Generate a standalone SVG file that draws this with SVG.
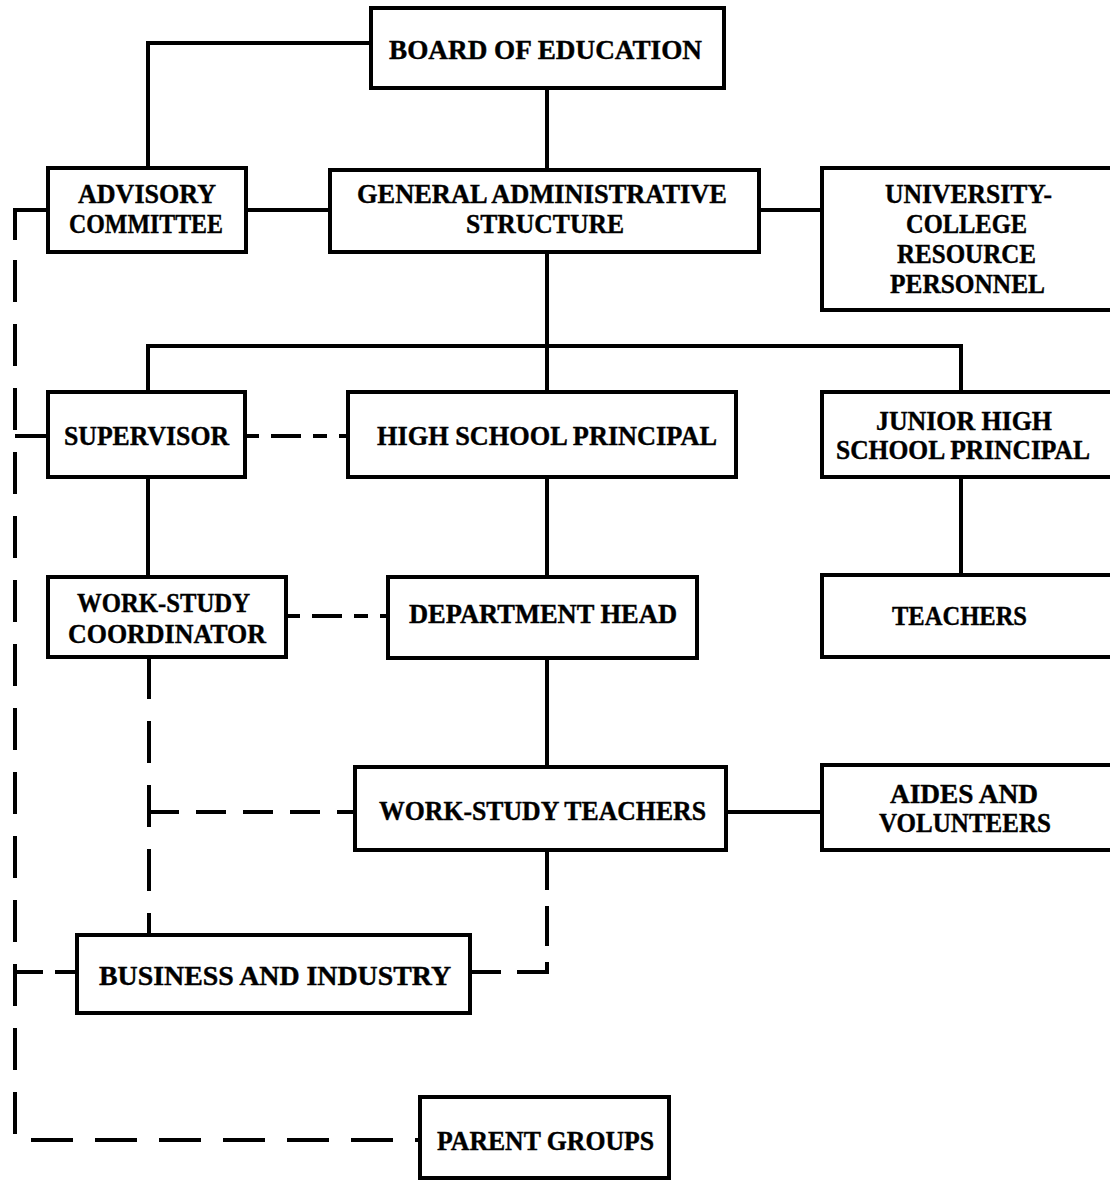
<svg xmlns="http://www.w3.org/2000/svg" width="1110" height="1181" viewBox="0 0 1110 1181">
  <style>
    .box { fill: #ffffff; stroke: #000000; stroke-width: 4; }
    .solid { fill: none; stroke: #000000; stroke-width: 4; }
    .dash { fill: none; stroke: #000000; stroke-width: 4; stroke-dasharray: 42 22; }
    .lbl { font-family: "Liberation Serif", "Times New Roman", serif; font-weight: bold; font-size: 27px; fill: #000000; stroke: #000000; stroke-width: 0.4; text-anchor: middle; }
  </style>
  <rect width="1110" height="1181" fill="#ffffff"/>

  <!-- connectors -->
  <g id="connectors">
    <!-- solid reporting lines -->
    <path class="solid" d="M371,43 H148 V168"/>
    <path class="solid" d="M547,88 V170"/>
    <path class="solid" d="M246,210 H330"/>
    <path class="solid" d="M759,210 H822"/>
    <path class="solid" d="M547,252 V392"/>
    <path class="solid" d="M148,392 V346 H961 V392"/>
    <path class="solid" d="M148,477 V577"/>
    <path class="solid" d="M547,477 V577"/>
    <path class="solid" d="M961,477 V575"/>
    <path class="solid" d="M547,658 V767"/>
    <path class="solid" d="M726,812 H822"/>
    <path class="solid" d="M48,210 H15 V240"/>
    <!-- dashed liaison lines -->
    <path class="dash" d="M15,260 V1140 H420"/>
    <path class="solid" d="M15,436 H48"/>
    <path class="dash" d="M15,972 H77" style="stroke-dasharray: 28 12"/>
    <path class="dash" d="M245,436 H348" style="stroke-dasharray: 14 12 30 12"/>
    <path class="dash" d="M286,616 H388" style="stroke-dasharray: 14 12 30 12"/>
    <path class="dash" d="M149,657 V935"/>
    <path class="dash" d="M149,812 H355" style="stroke-dasharray: 30 17"/>
    <path class="dash" d="M547,850 V972 H470" style="stroke-dasharray: 40 16"/>
  </g>

  <g id="board-of-education">
    <rect class="box" x="371" y="8" width="353" height="80"/>
    <text class="lbl" x="545.5" y="59" textLength="313" lengthAdjust="spacingAndGlyphs">BOARD OF EDUCATION</text>
  </g>

  <g id="advisory-committee">
    <rect class="box" x="48" y="168" width="198" height="84"/>
    <text class="lbl" x="147" y="203" textLength="138" lengthAdjust="spacingAndGlyphs">ADVISORY</text>
    <text class="lbl" x="146" y="233" textLength="154" lengthAdjust="spacingAndGlyphs">COMMITTEE</text>
  </g>

  <g id="general-administrative-structure">
    <rect class="box" x="330" y="170" width="429" height="82"/>
    <text class="lbl" x="542" y="203" textLength="370" lengthAdjust="spacingAndGlyphs">GENERAL ADMINISTRATIVE</text>
    <text class="lbl" x="545" y="233" textLength="158" lengthAdjust="spacingAndGlyphs">STRUCTURE</text>
  </g>

  <g id="university-college-resource-personnel">
    <rect class="box" x="822" y="168" width="296" height="142"/>
    <text class="lbl" x="968.5" y="203" textLength="167" lengthAdjust="spacingAndGlyphs">UNIVERSITY-</text>
    <text class="lbl" x="966.5" y="233" textLength="121" lengthAdjust="spacingAndGlyphs">COLLEGE</text>
    <text class="lbl" x="966.5" y="263" textLength="139" lengthAdjust="spacingAndGlyphs">RESOURCE</text>
    <text class="lbl" x="967.5" y="293" textLength="155" lengthAdjust="spacingAndGlyphs">PERSONNEL</text>
  </g>

  <g id="supervisor">
    <rect class="box" x="48" y="392" width="197" height="85"/>
    <text class="lbl" x="146.5" y="445" textLength="165" lengthAdjust="spacingAndGlyphs">SUPERVISOR</text>
  </g>

  <g id="high-school-principal">
    <rect class="box" x="348" y="392" width="388" height="85"/>
    <text class="lbl" x="547" y="445" textLength="340" lengthAdjust="spacingAndGlyphs">HIGH SCHOOL PRINCIPAL</text>
  </g>

  <g id="junior-high-school-principal">
    <rect class="box" x="822" y="392" width="296" height="85"/>
    <text class="lbl" x="964" y="430" textLength="176" lengthAdjust="spacingAndGlyphs">JUNIOR HIGH</text>
    <text class="lbl" x="963" y="459" textLength="254" lengthAdjust="spacingAndGlyphs">SCHOOL PRINCIPAL</text>
  </g>

  <g id="work-study-coordinator">
    <rect class="box" x="48" y="577" width="238" height="80"/>
    <text class="lbl" x="163.5" y="612" textLength="173" lengthAdjust="spacingAndGlyphs">WORK-STUDY</text>
    <text class="lbl" x="167" y="643" textLength="198" lengthAdjust="spacingAndGlyphs">COORDINATOR</text>
  </g>

  <g id="department-head">
    <rect class="box" x="388" y="577" width="309" height="81"/>
    <text class="lbl" x="543" y="623" textLength="268" lengthAdjust="spacingAndGlyphs">DEPARTMENT HEAD</text>
  </g>

  <g id="teachers">
    <rect class="box" x="822" y="575" width="296" height="82"/>
    <text class="lbl" x="959.5" y="625" textLength="135" lengthAdjust="spacingAndGlyphs">TEACHERS</text>
  </g>

  <g id="work-study-teachers">
    <rect class="box" x="355" y="767" width="371" height="83"/>
    <text class="lbl" x="542.5" y="820" textLength="327" lengthAdjust="spacingAndGlyphs">WORK-STUDY TEACHERS</text>
  </g>

  <g id="aides-and-volunteers">
    <rect class="box" x="822" y="765" width="296" height="85"/>
    <text class="lbl" x="964" y="803" textLength="148" lengthAdjust="spacingAndGlyphs">AIDES AND</text>
    <text class="lbl" x="965" y="832" textLength="172" lengthAdjust="spacingAndGlyphs">VOLUNTEERS</text>
  </g>

  <g id="business-and-industry">
    <rect class="box" x="77" y="935" width="393" height="78"/>
    <text class="lbl" x="275" y="985" textLength="352" lengthAdjust="spacingAndGlyphs">BUSINESS AND INDUSTRY</text>
  </g>

  <g id="parent-groups">
    <rect class="box" x="420" y="1097" width="249" height="81"/>
    <text class="lbl" x="545.5" y="1150" textLength="217" lengthAdjust="spacingAndGlyphs">PARENT GROUPS</text>
  </g>
</svg>
